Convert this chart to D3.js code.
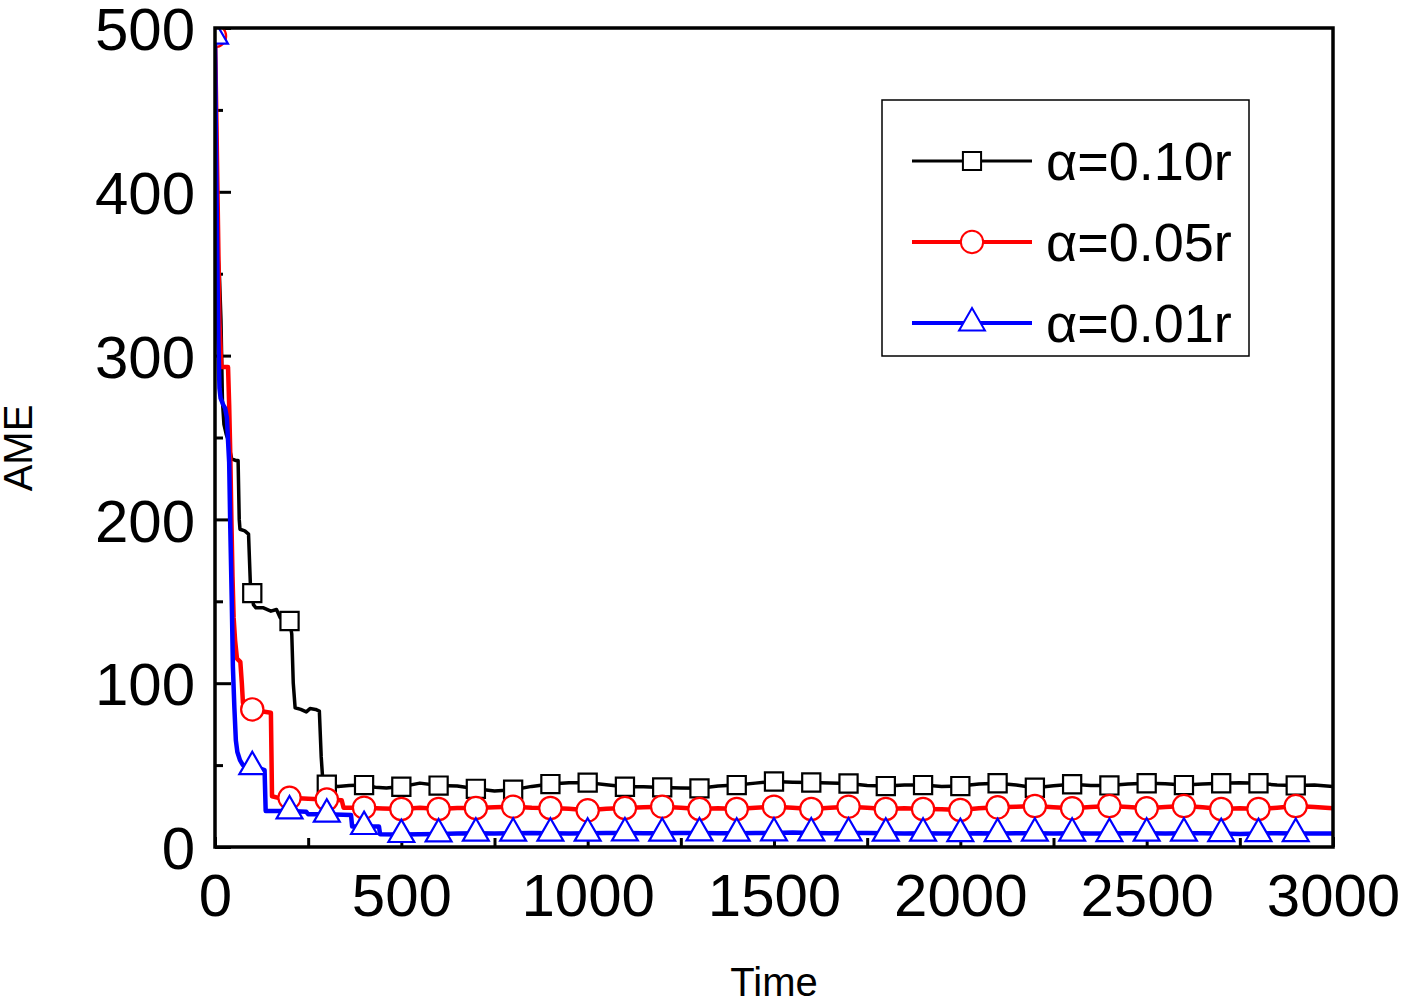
<!DOCTYPE html>
<html>
<head>
<meta charset="utf-8">
<script src="https://cdnjs.cloudflare.com/ajax/libs/d3/7.8.5/d3.min.js"></script>
<style>
  body { margin: 0; background: #fff; }
  text { font-family: "Liberation Sans", Arial, sans-serif; fill: #000; }
</style>
</head>
<body>
<svg id="chart"></svg>
<script>
// values: [time, AME] for the fast early drop,
// then one value every 50 time units for the flat part from 500 to 3000
var early010 = [[0,497],[3,440],[6,395],[9,358],[12,348],[16,322],[20,272],[24,258],[30,252],[36,248],
    [40,242],[45,237],[55,236],[62,236],[65,200],[67,194],[80,193],[90,191],[95,160],[100,155],
    [103,148],[110,146],[130,146],[150,144],[165,145],[175,140],[185,143],[200,138],[206,130],[210,100],
    [215,85],[230,84],[245,82.5],[255,84.5],[270,84],[280,83],[285,55],[290,38],[300,38],[330,37],
    [360,37.5],[400,37.8],[430,36.5],[460,36],[480,36.5]];
var early005 = [[0,495],[4,440],[8,380],[12,320],[15,305],[17,293],[35,293],[38,270],[41,240],[44,200],
    [47,165],[50,140],[54,126],[59,115],[68,113],[72,100],[75,88],[90,85],[100,84],[120,83],
    [150,82],[153,31],[170,30],[200,30],[250,29.5],[300,29],[340,28.5],[345,24],[400,24],[450,23.5]];
var early001 = [[0,495],[3,420],[6,360],[9,310],[12,280],[15,274],[22,270],[27,268],[32,262],[35,248],
    [38,235],[41,195],[45,150],[48,110],[52,85],[56,65],[60,58],[67,53],[75,50],[100,49],
    [120,48],[133,47],[136,22],[200,22],[245,21.5],[250,20],[300,20],[365,19.5],[368,12.5],[400,12.5],
    [440,12.5],[443,7.8]];

var tailTime = d3.range(500, 3001, 50);
var tail010 = [36.8,39.0,37.5,37.2,35.5,34.2,35.0,37.0,38.4,39.2,39.3,38.0,36.8,36.8,36.4,36.0,35.8,37.2,37.8,39.0,
    40.0,39.6,39.4,39.0,38.8,37.6,37.2,37.8,37.8,37.0,37.2,38.4,38.9,37.8,36.2,37.4,38.3,37.6,37.6,38.4,
    38.9,38.6,37.8,38.4,38.9,39.2,38.9,37.8,37.6,37.8,37.0];
var tail005 = [23.2,24.0,23.2,23.8,23.8,24.2,24.6,24.0,23.8,23.4,22.4,23.4,23.8,24.2,24.6,24.0,23.2,23.6,23.2,24.0,
    24.6,24.0,23.2,24.0,24.6,24.0,23.2,23.6,23.2,23.0,22.6,23.6,24.2,24.6,25.0,24.2,23.6,24.4,25.0,24.4,
    23.6,24.4,25.0,24.2,23.2,23.6,23.2,24.0,25.0,24.4,23.6];
var tail001 = [7.6,7.8,8.0,8.2,8.4,8.2,8.4,8.6,8.4,8.2,8.4,8.6,8.6,8.4,8.4,8.6,8.6,8.4,8.4,8.6,
    8.6,8.8,8.6,8.4,8.6,8.6,8.4,8.2,8.4,8.2,8.2,8.4,8.2,8.4,8.4,8.2,8.4,8.2,8.2,8.4,
    8.4,8.2,8.4,8.4,8.2,8.0,8.2,8.4,8.2,8.2,8.2];

var seriesNames = ["\u03b1=0.10r", "\u03b1=0.05r", "\u03b1=0.01r"];
var seriesColors = ["#000000", "#ff0000", "#0000ff"];
var xTicks = [0, 500, 1000, 1500, 2000, 2500, 3000];
var yTicks = [0, 100, 200, 300, 400, 500];

function join(early, tail) {
    return early.concat(tailTime.map(function(t, i) { return [t, tail[i]]; }));
}

var series = [
    {name: seriesNames[0], color: seriesColors[0], width: 3.5, legendWidth: 3, symbol: d3.symbolSquare, size: 330, data: join(early010, tail010)},
    {name: seriesNames[1], color: seriesColors[1], width: 4.5, legendWidth: 4, symbol: d3.symbolCircle, size: 390, data: join(early005, tail005)},
    {name: seriesNames[2], color: seriesColors[2], width: 4.5, legendWidth: 4, symbol: d3.symbolTriangle, size: 290, data: join(early001, tail001)}
];

var W = 1402, H = 1000,
    plotLeft = 215, plotRight = 1333, plotTop = 28, plotBottom = 847;

var svg = d3.select("#chart").attr("width", W).attr("height", H);
svg.append("rect").attr("width", W).attr("height", H).attr("fill", "#fff");

var x = d3.scaleLinear().domain([0, 3000]).range([plotLeft, plotRight]);
var y = d3.scaleLinear().domain([0, 500]).range([plotBottom, plotTop]);

svg.append("clipPath").attr("id", "plotClip")
  .append("rect").attr("x", plotLeft).attr("y", plotTop)
  .attr("width", plotRight - plotLeft).attr("height", plotBottom - plotTop);

// axes with inward ticks
var yAxis = svg.append("g").attr("transform", "translate(" + plotLeft + ",0)")
    .call(d3.axisLeft(y).tickValues(yTicks).tickSize(-16).tickPadding(20).tickFormat(d3.format("d")));
var yMinor = svg.append("g").attr("transform", "translate(" + plotLeft + ",0)")
    .call(d3.axisLeft(y).tickValues([50, 150, 250, 350, 450]).tickSize(-8).tickFormat(""));
var xAxis = svg.append("g").attr("transform", "translate(0," + plotBottom + ")")
    .call(d3.axisBottom(x).tickValues(xTicks).tickSize(-10).tickPadding(26).tickFormat(d3.format("d")));
var xMinor = svg.append("g").attr("transform", "translate(0," + plotBottom + ")")
    .call(d3.axisBottom(x).tickValues([250, 750, 1250, 1750, 2250, 2750]).tickSize(-9).tickFormat(""));

[yAxis, yMinor, xAxis, xMinor].forEach(function(g) {
    g.select(".domain").remove();
    g.selectAll(".tick line").attr("stroke", "#000").attr("stroke-width", 3);
    g.selectAll(".tick text").attr("font-size", 60).attr("font-family", "Liberation Sans, Arial, sans-serif");
});
yAxis.selectAll(".tick text").attr("dy", "0.36em");

var plot = svg.append("g").attr("clip-path", "url(#plotClip)");
var line = d3.line().x(function(d) { return x(d[0]); }).y(function(d) { return y(d[1]); });

series.forEach(function(s) {
    plot.append("path")
        .datum(s.data)
        .attr("d", line)
        .attr("fill", "none")
        .attr("stroke", s.color)
        .attr("stroke-width", s.width)
        .attr("stroke-linejoin", "round");
    plot.selectAll(null)
        .data(s.data.filter(function(d) { return d[0] % 100 === 0 && d[0] < 3000; }))
        .enter().append("path")
        .attr("d", d3.symbol().type(s.symbol).size(s.size))
        .attr("transform", function(d) { return "translate(" + x(d[0]) + "," + y(d[1]) + ")"; })
        .attr("fill", "#fff")
        .attr("stroke", s.color)
        .attr("stroke-width", 2.2);
});

// frame
svg.append("rect")
    .attr("x", plotLeft).attr("y", plotTop)
    .attr("width", plotRight - plotLeft).attr("height", plotBottom - plotTop)
    .attr("fill", "none").attr("stroke", "#000").attr("stroke-width", 3.5);

// axis titles
svg.append("text")
    .attr("transform", "translate(32,448) rotate(-90)")
    .attr("text-anchor", "middle")
    .attr("font-size", 40)
    .text("AME");
svg.append("text")
    .attr("x", 774).attr("y", 996)
    .attr("text-anchor", "middle")
    .attr("font-size", 40)
    .text("Time");

// legend
var legend = svg.append("g");
legend.append("rect")
    .attr("x", 882).attr("y", 100).attr("width", 367).attr("height", 256)
    .attr("fill", "#fff").attr("stroke", "#000").attr("stroke-width", 1.5);
var rows = legend.selectAll(".legendRow").data(series).enter().append("g")
    .attr("class", "legendRow")
    .attr("transform", function(d, i) { return "translate(0," + (161 + i * 81) + ")"; });
rows.append("line")
    .attr("x1", 912).attr("x2", 1032)
    .attr("stroke", function(d) { return d.color; })
    .attr("stroke-width", function(d) { return d.legendWidth; });
rows.append("path")
    .attr("d", function(d) { return d3.symbol().type(d.symbol).size(d.size)(); })
    .attr("transform", "translate(972,0)")
    .attr("fill", "#fff")
    .attr("stroke", function(d) { return d.color; })
    .attr("stroke-width", 2);
rows.append("text")
    .attr("x", 1046).attr("y", 19)
    .attr("font-size", 54)
    .text(function(d) { return d.name; });
</script>
</body>
</html>
